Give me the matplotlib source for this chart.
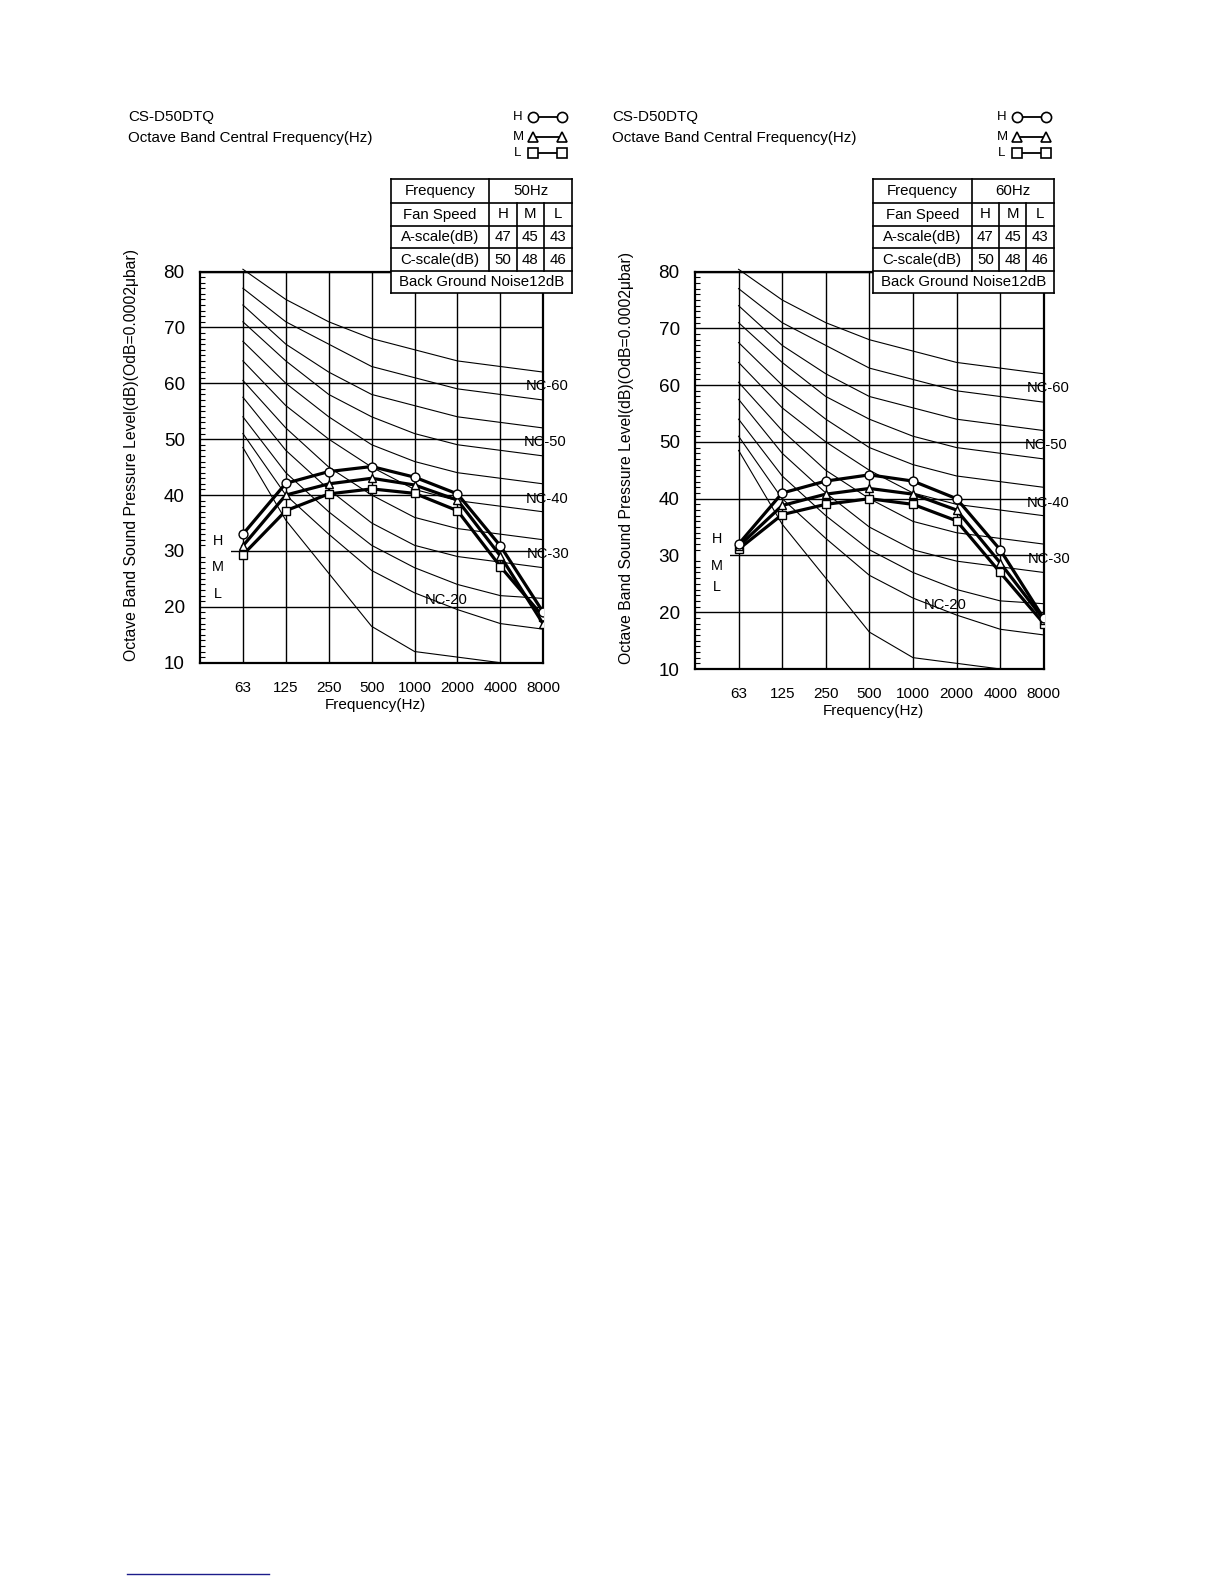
import matplotlib.pyplot as plt
from matplotlib.lines import Line2D
from matplotlib.patches import Rectangle

plt.rcParams['font.family'] = ['Liberation Sans', 'DejaVu Sans']

FIG_W, FIG_H = 1224, 1584

model = 'CS-D50DTQ'
bands = ['63', '125', '250', '500', '1000', '2000', '4000', '8000']

# NC reference curves (NC-15 runs off the bottom after 4000 Hz)
nc_names = ['NC-65', 'NC-60', 'NC-55', 'NC-50', 'NC-45', 'NC-40',
            'NC-35', 'NC-30', 'NC-25', 'NC-20', 'NC-15']
nc_levels = [
    [80.4, 75, 71, 68, 66, 64, 63, 62],
    [77, 71, 67, 63, 61, 59, 58, 57],
    [74, 67, 62, 58, 56, 54, 53, 52],
    [71, 64, 58, 54, 51, 49, 48, 47],
    [67.5, 60, 54, 49, 46, 44, 43, 42],
    [64, 56, 50, 45, 41, 39, 38, 37],
    [60.5, 52, 45, 40, 36, 34, 33, 32],
    [57.5, 48, 41, 35, 31, 29, 28, 27],
    [54, 44, 37, 31, 27, 24, 22, 21.5],
    [51, 40, 33, 26.5, 22.5, 19.5, 17, 16],
    [48.5, 35.5, 26, 16.5, 12, 11, 10],
]
nc_labelled = ['NC-60', 'NC-50', 'NC-40', 'NC-30', 'NC-20']

# measured levels per fan speed
h_50 = [33.0, 42.1, 44.2, 45.1, 43.2, 40.2, 30.9, 19.0]
m_50 = [30.9, 40.0, 42.0, 43.0, 41.8, 39.1, 29.1, 16.9]
l_50 = [29.3, 37.2, 40.2, 41.1, 40.3, 37.2, 27.2, 18.2]

h_60 = [32.0, 41.0, 43.1, 44.2, 43.1, 40.0, 31.0, 18.9]
m_60 = [31.6, 38.8, 40.8, 41.8, 40.8, 38.0, 28.7, 18.7]
l_60 = [31.1, 37.2, 39.0, 40.0, 39.0, 36.1, 27.0, 18.0]

speeds = ['H', 'M', 'L']
a_scale = [47, 45, 43]
c_scale = [50, 48, 46]
background_noise = 12

# label placement for NC names (x in band index, y in dB)
nc_label_pos = [(7.1, 59.5), (7.05, 49.5), (7.1, 39.3), (7.12, 29.4), (4.74, 21.3)]


def fx(x):
    return x / FIG_W


def fy(y):
    return 1 - y / FIG_H


def fig_line(fig, xs, ys, lw=1.0, **kw):
    fig.add_artist(Line2D([fx(x) for x in xs], [fy(y) for y in ys],
                          color='black', lw=lw, zorder=6, **kw))


def draw_header(fig, dx):
    fig.text(fx(128 + dx), fy(116.7), model, fontsize=10.9,
             ha='left', va='center')
    fig.text(fx(128 + dx), fy(137.7), 'Octave Band Central Frequency(Hz)',
             fontsize=10.9, ha='left', va='center')

    markers = ['o', '^', 's']
    rows_y = [116.7, 136.7, 153.3]
    for name, mk, y in zip(speeds, markers, rows_y):
        fig.text(fx(518 + dx), fy(y), name, fontsize=9.5, ha='center',
                 va='center')
        fig_line(fig, [533 + dx, 562 + dx], [y, y], lw=1.3, marker=mk,
                 ms=7.3, mfc='white', mec='black', mew=1.2)


def draw_table(fig, dx, supply):
    xs = [390.7 + dx, 489.3 + dx, 516.7 + dx, 544 + dx, 571.7 + dx]
    ys = [179.3, 203.3, 225.7, 248.3, 271, 293.3]
    fig.add_artist(Rectangle((fx(xs[0]), fy(ys[-1])),
                             (xs[-1] - xs[0]) / FIG_W,
                             (ys[-1] - ys[0]) / FIG_H,
                             transform=fig.transFigure, facecolor='white',
                             edgecolor='none', zorder=5))
    for y in ys:
        fig_line(fig, [xs[0], xs[-1]], [y, y], lw=1.2)
    fig_line(fig, [xs[0], xs[0]], [ys[0], ys[-1]], lw=1.2)
    fig_line(fig, [xs[-1], xs[-1]], [ys[0], ys[-1]], lw=1.2)
    fig_line(fig, [xs[1], xs[1]], [ys[0], ys[4]], lw=1.2)
    for x in xs[2:4]:
        fig_line(fig, [x, x], [ys[1], ys[4]], lw=1.2)

    def cell(text, x0, x1, row):
        fig.text(fx((x0 + x1) / 2), fy((ys[row] + ys[row + 1]) / 2), text,
                 fontsize=10.8, ha='center', va='center', zorder=7)

    cell('Frequency', xs[0], xs[1], 0)
    cell('{}Hz'.format(supply), xs[1], xs[4], 0)
    rows = [('Fan Speed', speeds), ('A-scale(dB)', a_scale),
            ('C-scale(dB)', c_scale)]
    for r, (title, vals) in enumerate(rows, start=1):
        cell(title, xs[0], xs[1], r)
        for c, v in enumerate(vals):
            cell(str(v), xs[c + 1], xs[c + 2], r)
    cell('Back Ground Noise{}dB'.format(background_noise), xs[0], xs[4], 4)


def draw_chart(fig, box, h, m, l, letter_pos, ylabel_x):
    left, top, right, bottom = box
    ax = fig.add_axes([fx(left), fy(bottom), (right - left) / FIG_W,
                       (bottom - top) / FIG_H])
    ax.set_axisbelow(True)

    for name, vals in zip(nc_names, nc_levels):
        ax.plot(bands[:len(vals)], vals, color='black', lw=0.8, zorder=2,
                clip_on=False)

    for vals, mk in [(l, 's'), (m, '^'), (h, 'o')]:
        ax.plot(bands, vals, color='black', lw=2.3, marker=mk, ms=6.4,
                mfc='white', mec='black', mew=1.0, zorder=4)

    ax.set_xlim(-1, 7)
    ax.set_ylim(10, 80)
    ax.set_yticks(range(10, 81, 10))
    ax.set_yticks(range(10, 81), minor=True)
    ax.grid(True, which='major', color='black', lw=1.0)
    ax.tick_params(axis='y', which='major', length=0, labelsize=13.6,
                   pad=11)
    ax.tick_params(axis='y', which='minor', direction='in', length=3.5,
                   width=0.8)
    ax.tick_params(axis='x', length=0, labelsize=11, pad=13)
    for sp in ax.spines.values():
        sp.set_linewidth(1.6)

    for name, (x, y) in zip(nc_labelled, nc_label_pos):
        ax.text(x, y, name, fontsize=10.6, ha='center', va='center',
                zorder=5)

    # white gap where the H/M/L letters sit on the 30 dB line
    ax.add_patch(Rectangle((-1, 29.5), letter_pos[0] + 1.3, 1.0,
                           facecolor='white', edgecolor='none', zorder=1))
    for name, y in zip(speeds, letter_pos[1]):
        ax.text(letter_pos[0], y, name, fontsize=10.4, ha='center',
                va='center', zorder=5)

    fig.text(fx((left + right) / 2 + 4), fy(bottom + 42), 'Frequency(Hz)',
             fontsize=11, ha='center', va='center')
    fig.text(fx(ylabel_x), fy((top + bottom) / 2 - 12),
             'Octave Band Sound Pressure Level(dB)(OdB=0.0002\u03bcbar)',
             fontsize=11.3, rotation=90, ha='center', va='center')
    return ax


fig = plt.figure(figsize=(FIG_W / 100, FIG_H / 100), dpi=100)

draw_chart(fig, (200, 271.5, 543.3, 662.7), h_50, m_50, l_50,
           (-0.58, [31.8, 27.1, 22.3]), 131.7)
draw_chart(fig, (695, 271.6, 1043.8, 669), h_60, m_60, l_60,
           (-0.5, [32.9, 28.2, 24.4]), 626)

draw_header(fig, 0)
draw_table(fig, 0, 50)
draw_header(fig, 484)
draw_table(fig, 482.3, 60)

fig.add_artist(Line2D([fx(126.7), fx(269)], [fy(1574.3), fy(1574.3)],
                      color='#1c1c8a', lw=1.0))

fig.savefig('out.png', dpi=100)
